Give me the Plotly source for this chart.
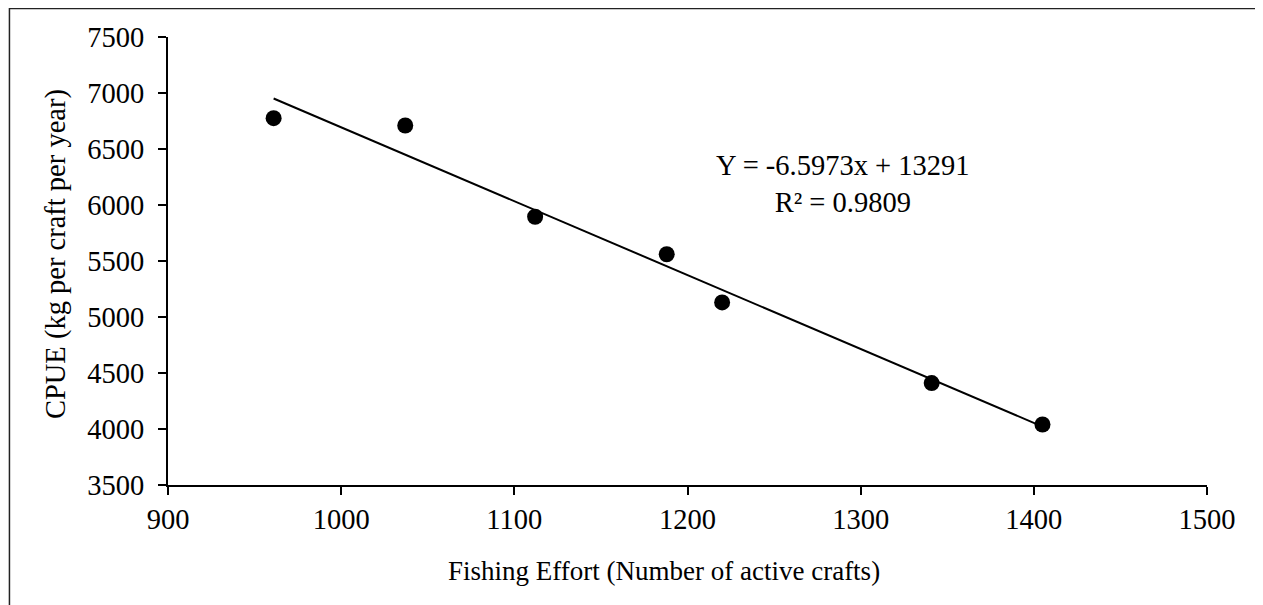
import plotly.graph_objects as go

# Data
effort = [961, 1037, 1112, 1188, 1220, 1341, 1405]
cpue = [6775, 6710, 5895, 5560, 5130, 4410, 4040]

# Linear trend shown on chart
slope = -6.5973
intercept = 13291
r2 = 0.9809

x_ticks = [900, 1000, 1100, 1200, 1300, 1400, 1500]
y_ticks = [3500, 4000, 4500, 5000, 5500, 6000, 6500, 7000, 7500]

x_title = "Fishing Effort (Number of active crafts)"
y_title = "CPUE (kg per craft per year)"

trend_x = [min(effort), max(effort)]
trend_y = [slope * v + intercept for v in trend_x]

FONT = "Liberation Serif"
TICK_SIZE = 28.5

fig = go.Figure()
fig.add_trace(go.Scatter(x=trend_x, y=trend_y, mode="lines",
                         line=dict(color="black", width=2), hoverinfo="skip",
                         showlegend=False))
fig.add_trace(go.Scatter(x=effort, y=cpue, mode="markers",
                         marker=dict(color="black", size=16), showlegend=False))

fig.add_annotation(x=1290, y=6192, xref="x", yref="y",
                   text=f"Y = {slope}x + {intercept}<br>R² = {r2}",
                   showarrow=False, align="center",
                   font=dict(family=FONT, size=TICK_SIZE, color="black"))
fig.add_annotation(x=0.4774, y=-0.192, xref="paper", yref="paper",
                   text=x_title, showarrow=False, xanchor="center", yanchor="middle",
                   font=dict(family=FONT, size=27, color="black"))
fig.add_annotation(x=-0.108, y=0.515, xref="paper", yref="paper",
                   text=y_title, showarrow=False, xanchor="center", yanchor="middle",
                   textangle=-90,
                   font=dict(family=FONT, size=28.5, color="black"))

fig.update_layout(
    width=1263, height=605,
    margin=dict(l=160, r=64, t=29, b=128),
    plot_bgcolor="white", paper_bgcolor="white",
    font=dict(family=FONT, size=TICK_SIZE, color="black"),
    xaxis=dict(range=[900, 1500], tickvals=x_ticks, showgrid=False, zeroline=False,
               showline=True, linecolor="black", linewidth=2,
               ticks="outside", ticklen=8, tickwidth=2, tickcolor="black",
               tickfont=dict(family=FONT, size=TICK_SIZE, color="black")),
    yaxis=dict(range=[3500, 7500], tickvals=y_ticks, showgrid=False, zeroline=False,
               showline=True, linecolor="black", linewidth=2,
               ticks="outside", ticklen=8, tickwidth=2, tickcolor="black",
               ticklabelstandoff=8,
               tickfont=dict(family=FONT, size=TICK_SIZE, color="black")),
    shapes=[dict(type="rect", xref="paper", yref="paper",
                 x0=-0.1526, y0=-0.6, x1=1.2, y1=1.0636,
                 line=dict(color="#222222", width=1.5), fillcolor="rgba(0,0,0,0)",
                 layer="below")],
)

fig.write_html("out.html")
